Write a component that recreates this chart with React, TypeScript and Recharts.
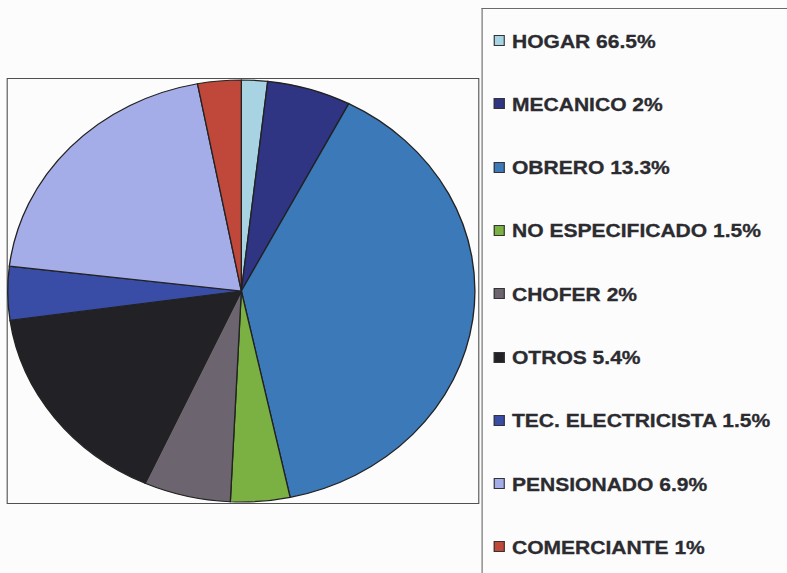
import React from "react";
import { PieChart, Pie, Cell, Legend } from "recharts";

// legend labels exactly as printed (the percentages in the labels do not match the slices)
const categories = [
  "HOGAR 66.5%",
  "MECANICO 2%",
  "OBRERO 13.3%",
  "NO ESPECIFICADO 1.5%",
  "CHOFER 2%",
  "OTROS 5.4%",
  "TEC. ELECTRICISTA 1.5%",
  "PENSIONADO 6.9%",
  "COMERCIANTE 1%",
];

const sliceShares = [1.8, 5.8, 39.0, 4.1, 6.0, 16.0, 4.1, 20.1, 3.0];

const sliceColors = [
  "#a8d3e2",
  "#2f3483",
  "#3b79b9",
  "#7bb043",
  "#6c6570",
  "#222226",
  "#3a4da6",
  "#a5ade8",
  "#c0483b",
];

// the scanned picture is stretched horizontally
const STRETCH = 1.107;
const W = 711;
const H = 573;

const renderLegend = (props: any) => {
  const payload = (props.payload || [])
    .slice()
    .sort(
      (a: any, b: any) =>
        categories.indexOf(a.value) - categories.indexOf(b.value)
    );
  return (
    <div style={{ position: "relative", width: W, height: H }}>
      {payload.map((entry: any, i: number) => {
        const baseline = 48 + i * 63.3;
        return (
          <div key={entry.value}>
            <div
              style={{
                position: "absolute",
                left: 446,
                top: baseline - 13,
                width: 8,
                height: 9,
                background: entry.color,
                border: "1px solid #333",
              }}
            />
            <div
              style={{
                position: "absolute",
                left: 462.5,
                top: baseline - 17.5,
                fontFamily: "'Liberation Sans', Arial, sans-serif",
                fontWeight: "bold",
                fontSize: 19,
                lineHeight: "22px",
                color: "#2b2b30",
                whiteSpace: "nowrap",
                WebkitTextStroke: "0.3px #2b2b30",
              }}
            >
              {entry.value}
            </div>
          </div>
        );
      })}
    </div>
  );
};

export default function App() {
  const data = categories.map((name, i) => ({ name, value: sliceShares[i] }));

  return (
    <div
      style={{
        position: "absolute",
        left: 0,
        top: 0,
        width: 787,
        height: 573,
        overflow: "hidden",
        background: "#fcfcfc",
      }}
    >
      <div
        style={{
          position: "relative",
          width: W,
          height: H,
          transform: `scaleX(${STRETCH})`,
          transformOrigin: "0 0",
        }}
      >
        {/* plot area frame */}
        <div
          style={{
            position: "absolute",
            left: 5.6,
            top: 78,
            width: 425,
            height: 424,
            border: "1.5px solid #505050",
          }}
        />
        {/* legend frame */}
        <div
          style={{
            position: "absolute",
            left: 435,
            top: 8,
            width: W - 435,
            height: H,
            borderLeft: "1.3px solid #6a6a6a",
            borderTop: "1.5px solid #6a6a6a",
          }}
        />
        <PieChart width={W} height={H} margin={{ top: 0, right: 0, bottom: 0, left: 0 }}>
          <Pie
            data={data}
            dataKey="value"
            nameKey="name"
            cx={218}
            cy={291}
            outerRadius={211}
            startAngle={90}
            endAngle={-270}
            stroke="#222"
            strokeWidth={1.2}
            isAnimationActive={false}
          >
            {data.map((d, i) => (
              <Cell key={d.name} fill={sliceColors[i]} />
            ))}
          </Pie>
          <Legend
            content={renderLegend}
            wrapperStyle={{ left: 0, top: 0, width: W, height: H }}
          />
        </PieChart>
      </div>
    </div>
  );
}
